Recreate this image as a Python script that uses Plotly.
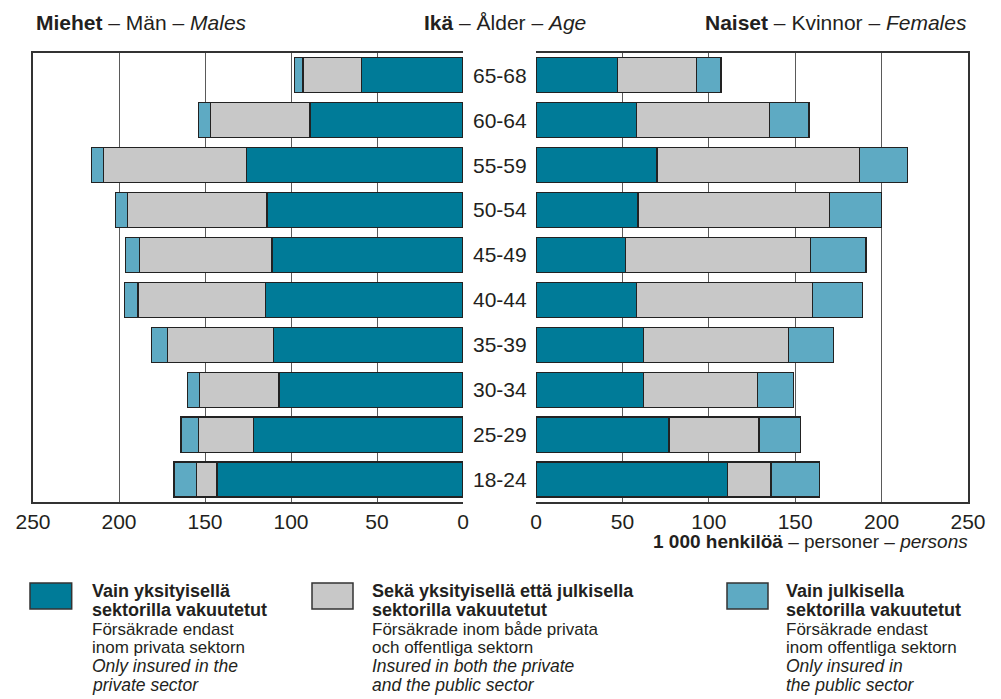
import plotly.graph_objects as go

# ---- data ----
ages = ["18-24", "25-29", "30-34", "35-39", "40-44", "45-49", "50-54", "55-59", "60-64", "65-68"]

male_private = [143, 122, 107, 110, 115, 111, 114, 126, 89, 59]
male_both    = [12, 32, 46, 62, 74, 77, 81, 83, 58, 34]
male_public  = [13, 10, 7, 9, 8, 8, 7, 7, 7, 5]

female_private = [111, 77, 62, 62, 58, 52, 59, 70, 58, 47]
female_both    = [25, 52, 66, 84, 102, 107, 111, 117, 77, 46]
female_public  = [28, 24, 21, 26, 29, 32, 30, 28, 23, 14]

tick_vals = [0, 50, 100, 150, 200, 250]
tick_text = ["0", "50", "100", "150", "200", "250"]

series_names = ["Vain yksityisellä sektorilla vakuutetut",
                "Sekä yksityisellä että julkisella sektorilla vakuutetut",
                "Vain julkisella sektorilla vakuutetut"]
colors = ["#007b98", "#c8c8c8", "#5eaac3"]

legend_text = [
    ["<b>Vain yksityisellä</b>", "<b>sektorilla vakuutetut</b>",
     "Försäkrade endast", "inom privata sektorn",
     "<i>Only insured in the</i>", "<i>private sector</i>"],
    ["<b>Sekä yksityisellä että julkisella</b>", "<b>sektorilla vakuutetut</b>",
     "Försäkrade inom både privata", "och offentliga sektorn",
     "<i>Insured in both the private</i>", "<i>and the public sector</i>"],
    ["<b>Vain julkisella</b>", "<b>sektorilla vakuutetut</b>",
     "Försäkrade endast", "inom offentliga sektorn",
     "<i>Only insured in</i>", "<i>the public sector</i>"],
]

W, H = 1001, 699
ARIAL = "Liberation Sans, Arial, Helvetica, sans-serif"
TXT = "#231f20"

fig = go.Figure()
male_sets = [male_private, male_both, male_public]
female_sets = [female_private, female_both, female_public]
for i in range(3):
    fig.add_trace(go.Bar(x=male_sets[i], y=ages, orientation="h", name=series_names[i],
                         marker=dict(color=colors[i], line=dict(color="#222222", width=1.2)),
                         width=0.78, xaxis="x", yaxis="y", showlegend=False))
for i in range(3):
    fig.add_trace(go.Bar(x=female_sets[i], y=ages, orientation="h", name=series_names[i],
                         marker=dict(color=colors[i], line=dict(color="#222222", width=1.2)),
                         width=0.78, xaxis="x2", yaxis="y2", showlegend=False))

def px(x):
    return x / W

def py(y):
    return 1 - y / H

ydom = [py(502), py(52.7)]
axis_common = dict(tickvals=tick_vals, ticktext=tick_text, showgrid=True, gridcolor="#5a5a5a",
                   gridwidth=1, showline=True, linecolor="#333333", linewidth=1.5, mirror=True,
                   zeroline=False, ticks="", automargin=False,
                   tickfont=dict(family=ARIAL, size=21, color=TXT), fixedrange=True)
fig.update_layout(
    width=W, height=H, autosize=False, margin=dict(l=0, r=0, t=0, b=0, pad=0, autoexpand=False),
    plot_bgcolor="white", paper_bgcolor="white", barmode="stack",
    xaxis=dict(domain=[px(33), px(463)], range=[250, 0], anchor="y", **axis_common),
    xaxis2=dict(domain=[px(536), px(968)], range=[0, 250], anchor="y2", **axis_common),
    yaxis=dict(domain=ydom, categoryorder="array", categoryarray=ages, range=[-0.5, 9.5],
               showticklabels=False, showgrid=False, showline=True, linecolor="#333333",
               linewidth=1.5, side="left", anchor="x", zeroline=False, ticks="", automargin=False),
    yaxis2=dict(domain=ydom, categoryorder="array", categoryarray=ages, range=[-0.5, 9.5],
                showticklabels=False, showgrid=False, showline=True, linecolor="#333333",
                linewidth=1.5, side="right", anchor="x2", zeroline=False, ticks="", automargin=False),
)

annotations = []
# age labels in the middle
for a in ages:
    annotations.append(dict(x=px(500), xref="paper", y=a, yref="y", text=a, showarrow=False,
                            xanchor="center", yanchor="middle",
                            font=dict(family=ARIAL, size=21, color=TXT)))
# titles
annotations.append(dict(x=px(141), y=py(22), xref="paper", yref="paper", xanchor="center", yanchor="middle",
                        text="<b>Miehet</b> – Män – <i>Males</i>", showarrow=False,
                        font=dict(family=ARIAL, size=21, color=TXT)))
annotations.append(dict(x=px(505), y=py(22), xref="paper", yref="paper", xanchor="center", yanchor="middle",
                        text="<b>Ikä</b> – Ålder – <i>Age</i>", showarrow=False,
                        font=dict(family=ARIAL, size=21, color=TXT)))
annotations.append(dict(x=px(969), y=py(22), xref="paper", yref="paper", xanchor="right", yanchor="middle",
                        text="<b>Naiset</b> – Kvinnor – <i>Females</i>", showarrow=False,
                        font=dict(family=ARIAL, size=21, color=TXT)))
annotations.append(dict(x=px(970), y=py(541), xref="paper", yref="paper", xanchor="right", yanchor="middle",
                        text="<b>1 000 henkilöä</b> – personer – <i>persons</i>", showarrow=False,
                        font=dict(family=ARIAL, size=19, color=TXT)))

# legend
box_x = [(30, 71.7), (312, 353), (727, 768)]
text_x = [90, 370, 784]
line_y = [591, 609.5, 629, 647.5, 666, 684.5]
line_size = [18, 18, 17, 17, 17.5, 17.5]
shapes = []
for k in range(3):
    shapes.append(dict(type="rect", xref="paper", yref="paper",
                       x0=px(box_x[k][0]), x1=px(box_x[k][1]), y0=py(609), y1=py(583),
                       fillcolor=colors[k], line=dict(color="#333333", width=1.5)))
    for j, t in enumerate(legend_text[k]):
        annotations.append(dict(x=px(text_x[k]), y=py(line_y[j]), xref="paper", yref="paper",
                                xanchor="left", yanchor="middle", text=t, showarrow=False,
                                font=dict(family=ARIAL, size=line_size[j], color=TXT)))

fig.update_layout(annotations=annotations, shapes=shapes)
fig.write_html("out.html", config={"responsive": False, "displayModeBar": False},
               post_script="document.body.style.margin='0px';document.body.style.overflow='hidden';")
